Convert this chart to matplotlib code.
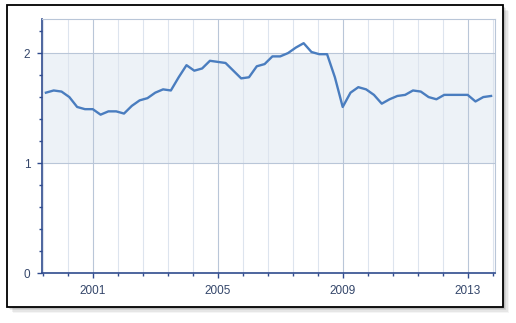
import numpy as np
import matplotlib.pyplot as plt
from matplotlib.patches import Rectangle
from matplotlib.ticker import MultipleLocator, FixedLocator

# quarterly values, starting 1999 Q3
start_year = 1999.5
values = [1.64, 1.66, 1.65, 1.60, 1.51, 1.49, 1.49, 1.44, 1.47, 1.47,
          1.45, 1.52, 1.57, 1.59, 1.64, 1.67, 1.66, 1.78, 1.89, 1.84,
          1.86, 1.93, 1.92, 1.91, 1.84, 1.77, 1.78, 1.88, 1.90, 1.97,
          1.97, 2.00, 2.05, 2.09, 2.01, 1.99, 1.99, 1.78, 1.51, 1.64,
          1.69, 1.67, 1.62, 1.54, 1.58, 1.61, 1.62, 1.66, 1.65, 1.60,
          1.58, 1.62, 1.62, 1.62, 1.62, 1.56, 1.60, 1.61]
year_labels = [2001, 2005, 2009, 2013]
band = (1, 2)

line_c = "#4a7dbf"
axis_c = "#2f4b8e"
text_c = "#34466a"
band_c = "#edf2f7"
grid_major = "#b9c6d8"
grid_minor = "#dde4ee"

W, H = 516, 323
fig = plt.figure(figsize=(W / 100, H / 100), dpi=100)
fig.patch.set_facecolor("white")

# soft shadow + frame
for i, a in enumerate([0.04, 0.06, 0.08, 0.10]):
    off = 6 - i * 1.3
    fig.patches.append(Rectangle(((7 + off) / W, 1 - (307 + off) / H),
                                 496 / W, 302 / H, transform=fig.transFigure,
                                 facecolor="black", alpha=a, edgecolor="none",
                                 zorder=0))
fig.patches.append(Rectangle((7 / W, 1 - 307 / H), 496 / W, 302 / H,
                             transform=fig.transFigure, facecolor="white",
                             edgecolor="black", linewidth=1.3, zorder=1))

ax = fig.add_axes([42 / W, 1 - 273 / H, (495 - 42) / W, (273 - 19) / H])
ax.set_zorder(2)
ax.patch.set_alpha(0)

x = start_year + 0.25 * np.arange(len(values))
ax.axhspan(band[0], band[1], color=band_c, zorder=0, linewidth=0)
ax.plot(x, values, color=line_c, linewidth=1.7, zorder=3)

ax.set_xlim(1999.375, 2013.875)
ax.set_ylim(0, 2.31)

ax.xaxis.set_major_locator(FixedLocator(year_labels))
ax.xaxis.set_minor_locator(FixedLocator(np.arange(1999.4, 2013.9, 0.8)))
ax.set_xticklabels([str(y) for y in year_labels])
ax.yaxis.set_major_locator(MultipleLocator(1))
ax.yaxis.set_minor_locator(MultipleLocator(0.2))

for xv in np.arange(1999.4, 2013.9, 0.8):
    major = any(abs(xv - y) < 0.01 for y in year_labels)
    ax.axvline(xv, color=grid_major if major else grid_minor,
               linewidth=0.8, zorder=1)
for yv in [1, 2]:
    ax.axhline(yv, color=grid_major, linewidth=0.8, zorder=1)

for s in ["top", "right"]:
    ax.spines[s].set_color(grid_major)
    ax.spines[s].set_linewidth(0.8)
for s in ["left", "bottom"]:
    ax.spines[s].set_color(axis_c)
    ax.spines[s].set_linewidth(1.2)

ax.tick_params(which="major", length=3.5, width=1, color=axis_c,
               labelcolor=text_c, labelsize=8.5, pad=5)
ax.tick_params(which="minor", length=2, width=1, color=axis_c)
for lab in ax.get_xticklabels() + ax.get_yticklabels():
    lab.set_fontfamily("Liberation Sans")

fig.savefig("out.png", dpi=100)
